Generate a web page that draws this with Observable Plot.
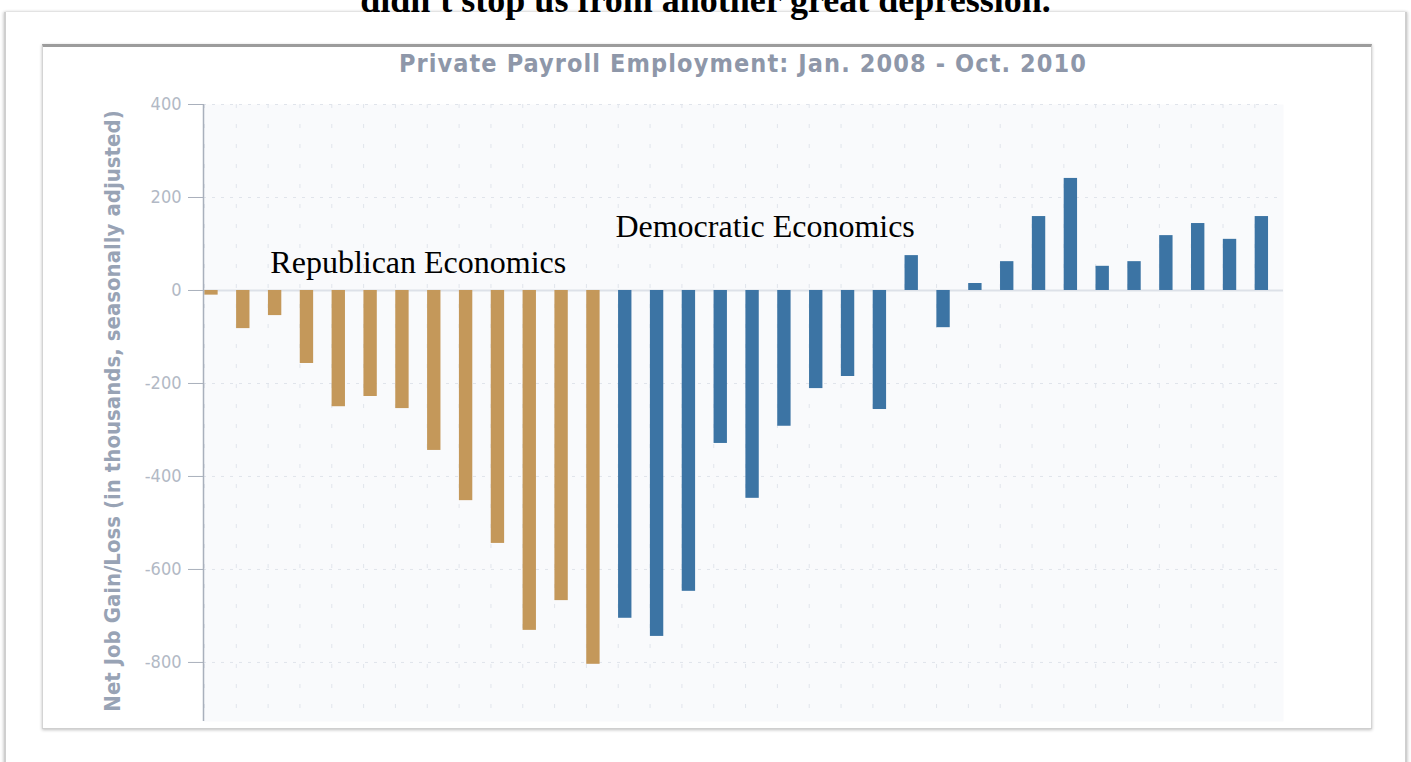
<!DOCTYPE html>
<html>
<head>
<meta charset="utf-8">
<script src="https://cdn.jsdelivr.net/npm/d3@7"></script>
<script src="https://cdn.jsdelivr.net/npm/@observablehq/plot@0.6"></script>
<style>
  html, body { margin: 0; padding: 0; background: #fff; }
  body { width: 1411px; height: 762px; position: relative; overflow: hidden; }
  #page { position: absolute; left: 4px; top: 12px; width: 1399px; height: 800px;
          border-left: 2px solid #cfcfcf; border-right: 2px solid #cfcfcf;
          box-shadow: -1px 0 3px rgba(0,0,0,0.15), 1px 0 3px rgba(0,0,0,0.15); }
  #headline { position: absolute; left: 0; width: 1411px; top: -18px; text-align: center;
              font-family: "Liberation Serif", "Times New Roman", serif; font-weight: bold;
              font-size: 36px; line-height: 36px; color: #000; white-space: nowrap; }
  #box { position: absolute; left: 42px; top: 44px; width: 1328px; height: 681px;
         background: #fff; border-top: 3px solid #9c9c9c; border-left: 1px solid #d4d4d4;
         border-right: 1px solid #d4d4d4; border-bottom: 1px solid #cfcfcf;
         box-shadow: 0 1px 3px rgba(0,0,0,0.25); }
  #ctitle { position: absolute; left: 343px; width: 800px; top: 49px; text-align: center;
            font-family: "DejaVu Sans Condensed", "DejaVu Sans", sans-serif; font-weight: bold;
            font-size: 25px; letter-spacing: 1.1px; line-height: 30px; color: #8e97a9; white-space: nowrap; }
  #chart { position: absolute; left: 0; top: 0; }
</style>
</head>
<body>
<div id="page"></div>
<div id="headline">didn't stop us from another great depression.</div>
<div id="box"></div>
<div id="ctitle">Private Payroll Employment: Jan. 2008 - Oct. 2010</div>
<div id="chart"></div>
<script>
// Months Jan 2008 - Oct 2010
const months = [
  "Jan 2008","Feb 2008","Mar 2008","Apr 2008","May 2008","Jun 2008","Jul 2008","Aug 2008","Sep 2008","Oct 2008","Nov 2008","Dec 2008",
  "Jan 2009","Feb 2009","Mar 2009","Apr 2009","May 2009","Jun 2009","Jul 2009","Aug 2009","Sep 2009","Oct 2009","Nov 2009","Dec 2009",
  "Jan 2010","Feb 2010","Mar 2010","Apr 2010","May 2010","Jun 2010","Jul 2010","Aug 2010","Sep 2010","Oct 2010"
];
// Net job gain/loss, thousands
const jobs = [
  -10, -82, -54, -157, -250, -228, -254, -344, -452, -544, -731, -667,
  -804, -705, -744, -647, -329, -447, -292, -211, -185, -256, 75, -80,
  15, 62, 159, 241, 52, 62, 118, 144, 110, 159
];
const party = [
  "Republican","Republican","Republican","Republican","Republican","Republican","Republican","Republican","Republican","Republican","Republican","Republican",
  "Republican","Democratic","Democratic","Democratic","Democratic","Democratic","Democratic","Democratic","Democratic","Democratic","Democratic","Democratic",
  "Democratic","Democratic","Democratic","Democratic","Democratic","Democratic","Democratic","Democratic","Democratic","Democratic"
];
const yTicks = [400, 200, 0, -200, -400, -600, -800];
const gridRows = [400, 200, -200, -400, -600, -800];
const annotations = [
  {label: "Republican Economics", i: 1.85, v: 38},
  {label: "Democratic Economics", i: 12.69, v: 114}
];
const yLabel = "Net Job Gain/Loss (in thousands, seasonally adjusted)";

const data = months.map((m, i) => ({i, month: m, value: jobs[i], party: party[i]}));
const cols = d3.range(0, 34);

const chart = Plot.plot({
  width: 1411,
  height: 762,
  marginLeft: 203,
  marginRight: 128,
  marginTop: 104,
  marginBottom: 41,
  style: {background: "transparent", overflow: "visible"},
  x: {domain: [-0.25, 33.68], axis: null},
  y: {domain: [-927, 400], axis: null},
  color: {domain: ["Republican", "Democratic"], range: ["#c4985a", "#3c74a4"]},
  marks: [
    Plot.frame({fill: "#f9fafc", stroke: null}),
    Plot.ruleX(cols, {x: d => d - 0.22, stroke: "#e1e5ec", strokeWidth: 1, strokeDasharray: "4,16"}),
    Plot.ruleY(gridRows, {stroke: "#e0e4eb", strokeWidth: 1, strokeDasharray: "3,6"}),
    Plot.ruleY([0], {stroke: "#dde1e8", strokeWidth: 2}),
    Plot.rectY(data, {x1: d => d.i - 0.21, x2: d => d.i + 0.21, y1: 0, y2: "value", fill: "party"}),
    Plot.ruleX([-0.25], {y1: -927, y2: 400, stroke: "#a9b0bc", strokeWidth: 1.5}),
    Plot.axisY({ticks: yTicks, tickSize: 15, tickPadding: 7, tickFormat: d => String(d),
                fontSize: 18, fontFamily: "DejaVu Sans Condensed, DejaVu Sans, sans-serif",
                color: "#b2b9c5", stroke: "#a9b0bc", label: null}),
    Plot.text([yLabel], {frameAnchor: "left", rotate: -90, dx: -91, dy: -2, textAnchor: "middle",
                         fontSize: 22, fontWeight: "bold", fill: "#98a3b5",
                         fontFamily: "DejaVu Sans Condensed, DejaVu Sans, sans-serif"}),
    Plot.text(annotations, {x: "i", y: "v", text: "label", textAnchor: "start", lineAnchor: "bottom",
                            fontSize: 32, fontFamily: "Liberation Serif, Times New Roman, serif", fill: "#000"})
  ]
});
document.getElementById("chart").appendChild(chart);
</script>
</body>
</html>
